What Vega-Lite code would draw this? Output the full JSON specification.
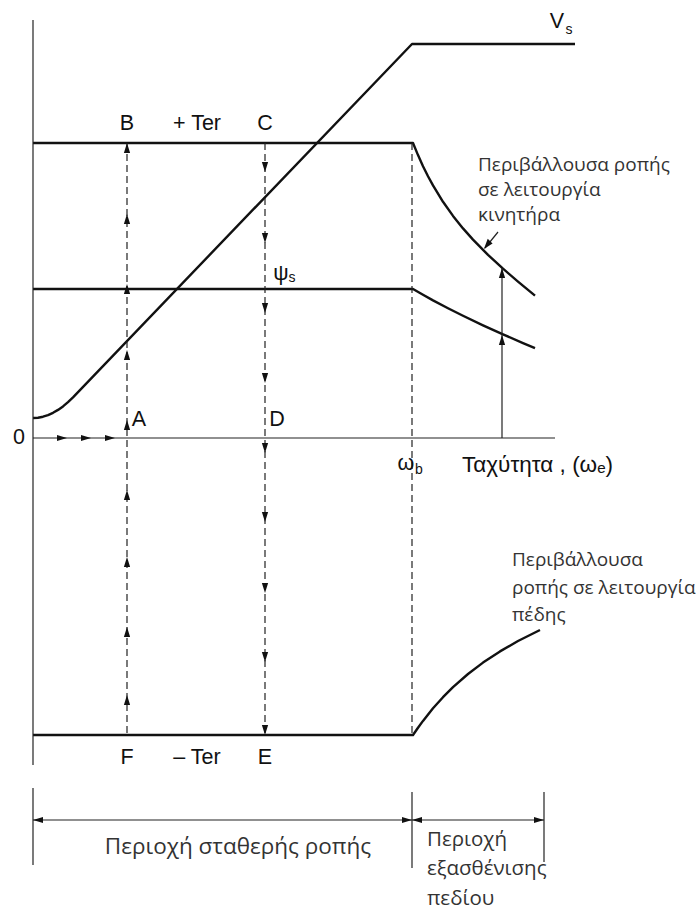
{
  "$schema": "https://vega.github.io/schema/vega-lite/v6.json",
  "width": 699,
  "height": 918,
  "padding": 0,
  "autosize": {"type": "fit", "contains": "padding"},
  "background": "white",
  "config": {"view": {"stroke": null}},
  "datasets": {
    "thick": [
      {"s": "Vs", "o": 0, "x": 0, "y": 20}, {"s": "Vs", "o": 1, "x": 5, "y": 20.3}, {"s": "Vs", "o": 2, "x": 10, "y": 21.3}, {"s": "Vs", "o": 3, "x": 15, "y": 22.9}, {"s": "Vs", "o": 4, "x": 20, "y": 25.2}, {"s": "Vs", "o": 5, "x": 25, "y": 28.1}, {"s": "Vs", "o": 6, "x": 30, "y": 31.6}, {"s": "Vs", "o": 7, "x": 35, "y": 35.9}, {"s": "Vs", "o": 8, "x": 40, "y": 40.7}, {"s": "Vs", "o": 9, "x": 379, "y": 394}, {"s": "Vs", "o": 10, "x": 542, "y": 394},
      {"s": "Mot", "o": 0, "x": 0, "y": 295}, {"s": "Mot", "o": 1, "x": 380, "y": 295}, {"s": "Mot", "o": 2, "x": 385, "y": 282.9}, {"s": "Mot", "o": 3, "x": 390, "y": 271.8}, {"s": "Mot", "o": 4, "x": 395, "y": 261.8}, {"s": "Mot", "o": 5, "x": 400, "y": 252.6}, {"s": "Mot", "o": 6, "x": 410, "y": 236.2}, {"s": "Mot", "o": 7, "x": 420, "y": 222.1}, {"s": "Mot", "o": 8, "x": 430, "y": 209.6}, {"s": "Mot", "o": 9, "x": 440, "y": 198.4}, {"s": "Mot", "o": 10, "x": 455, "y": 183.1}, {"s": "Mot", "o": 11, "x": 470, "y": 169.3}, {"s": "Mot", "o": 12, "x": 485, "y": 156.4}, {"s": "Mot", "o": 13, "x": 502, "y": 142.4},
      {"s": "Psi", "o": 0, "x": 0, "y": 149}, {"s": "Psi", "o": 1, "x": 380, "y": 149}, {"s": "Psi", "o": 2, "x": 390, "y": 143.2}, {"s": "Psi", "o": 3, "x": 400, "y": 137.6}, {"s": "Psi", "o": 4, "x": 415, "y": 129.7}, {"s": "Psi", "o": 5, "x": 430, "y": 122.2}, {"s": "Psi", "o": 6, "x": 450, "y": 112.7}, {"s": "Psi", "o": 7, "x": 470, "y": 103.7}, {"s": "Psi", "o": 8, "x": 490, "y": 94.9}, {"s": "Psi", "o": 9, "x": 502, "y": 89.8},
      {"s": "Brk", "o": 0, "x": 0, "y": -297}, {"s": "Brk", "o": 1, "x": 380, "y": -297}, {"s": "Brk", "o": 2, "x": 385, "y": -289.7}, {"s": "Brk", "o": 3, "x": 390, "y": -282.9}, {"s": "Brk", "o": 4, "x": 400, "y": -270.3}, {"s": "Brk", "o": 5, "x": 410, "y": -259.2}, {"s": "Brk", "o": 6, "x": 420, "y": -249.2}, {"s": "Brk", "o": 7, "x": 435, "y": -236}, {"s": "Brk", "o": 8, "x": 450, "y": -224.6}, {"s": "Brk", "o": 9, "x": 467, "y": -213.4}, {"s": "Brk", "o": 10, "x": 485, "y": -203}, {"s": "Brk", "o": 11, "x": 507, "y": -192}
    ],
    "thin": [
      {"s": "axis", "o": 0, "x": 0, "y": 418}, {"s": "axis", "o": 1, "x": 0, "y": -327},
      {"s": "zero", "o": 0, "x": 0, "y": 0}, {"s": "zero", "o": 1, "x": 522, "y": 0},
      {"s": "varrow", "o": 0, "x": 469, "y": 0}, {"s": "varrow", "o": 1, "x": 469, "y": 170},
      {"s": "t1", "o": 0, "x": 0, "y": -350}, {"s": "t1", "o": 1, "x": 0, "y": -427},
      {"s": "t2", "o": 0, "x": 379, "y": -354}, {"s": "t2", "o": 1, "x": 379, "y": -430},
      {"s": "t3", "o": 0, "x": 511, "y": -354}, {"s": "t3", "o": 1, "x": 511, "y": -424},
      {"s": "a1", "o": 0, "x": 0, "y": -382}, {"s": "a1", "o": 1, "x": 379, "y": -382},
      {"s": "a2", "o": 0, "x": 379, "y": -382}, {"s": "a2", "o": 1, "x": 511, "y": -382},
      {"s": "ptr", "o": 0, "x": 465, "y": 206}, {"s": "ptr", "o": 1, "x": 452, "y": 190}
    ],
    "dashed": [
      {"s": "dA", "o": 0, "x": 94, "y": 295}, {"s": "dA", "o": 1, "x": 94, "y": -297},
      {"s": "dC", "o": 0, "x": 232, "y": 295}, {"s": "dC", "o": 1, "x": 232, "y": -297},
      {"s": "dB", "o": 0, "x": 379, "y": 295}, {"s": "dB", "o": 1, "x": 379, "y": -297}
    ],
    "heads": [
      {"d": "up", "x": 94, "y": 290}, {"d": "up", "x": 94, "y": 219}, {"d": "up", "x": 94, "y": 149}, {"d": "up", "x": 94, "y": 83}, {"d": "up", "x": 94, "y": 13}, {"d": "up", "x": 94, "y": -57}, {"d": "up", "x": 94, "y": -124}, {"d": "up", "x": 94, "y": -194}, {"d": "up", "x": 94, "y": -262},
      {"d": "down", "x": 232, "y": 271}, {"d": "down", "x": 232, "y": 200}, {"d": "down", "x": 232, "y": 130}, {"d": "down", "x": 232, "y": 60}, {"d": "down", "x": 232, "y": -10}, {"d": "down", "x": 232, "y": -79}, {"d": "down", "x": 232, "y": -150}, {"d": "down", "x": 232, "y": -219}, {"d": "down", "x": 232, "y": -292},
      {"d": "right", "x": 29, "y": 0}, {"d": "right", "x": 53, "y": 0}, {"d": "right", "x": 77, "y": 0},
      {"d": "up", "x": 469, "y": 165}, {"d": "up", "x": 469, "y": 98},
      {"d": "left", "x": 5, "y": -382}, {"d": "right", "x": 374, "y": -382}, {"d": "left", "x": 384, "y": -382}, {"d": "right", "x": 506, "y": -382},
      {"d": "dl", "x": 454, "y": 193}
    ],
    "labels": [
      {"t": "B", "x": 94, "y": 314}, {"t": "+ Ter", "x": 164, "y": 314}, {"t": "C", "x": 232, "y": 314},
      {"t": "A", "x": 106, "y": 18}, {"t": "D", "x": 244, "y": 18}, {"t": "0", "x": -14, "y": 0},
      {"t": "F", "x": 94, "y": -320}, {"t": "– Ter", "x": 164, "y": -320}, {"t": "E", "x": 232, "y": -320},
      {"t": "V", "x": 524, "y": 416}, {"t": "ψ", "x": 248, "y": 164}, {"t": "ω", "x": 373, "y": -26}
    ],
    "subs": [
      {"t": "s", "x": 536, "y": 408}, {"t": "s", "x": 259, "y": 160}, {"t": "b", "x": 386, "y": -32}
    ],
    "axislabel": [
      {"t": "Ταχύτητα , (ωₑ)", "x": 429, "y": -27}
    ],
    "notes": [
      {"t": "Περιβάλλουσα ροπής", "x": 445, "y": 273}, {"t": "σε λειτουργία", "x": 445, "y": 248}, {"t": "κινητήρα", "x": 445, "y": 223},
      {"t": "Περιβάλλουσα", "x": 479, "y": -122}, {"t": "ροπής σε λειτουργία", "x": 479, "y": -150}, {"t": "πέδης", "x": 479, "y": -177}
    ],
    "regionLeft": [
      {"t": "Περιοχή σταθερής ροπής", "x": 205, "y": -409}
    ],
    "regionRight": [
      {"t": "Περιοχή", "x": 394, "y": -402}, {"t": "εξασθένισης", "x": 394, "y": -431}, {"t": "πεδίου", "x": 394, "y": -461}
    ]
  },
  "encoding": {
    "x": {"field": "x", "type": "quantitative", "scale": {"domain": [-33, 666], "nice": false, "zero": false}, "axis": null},
    "y": {"field": "y", "type": "quantitative", "scale": {"domain": [-480, 438], "nice": false, "zero": false}, "axis": null}
  },
  "layer": [
    {
      "data": {"name": "thick"},
      "mark": {"type": "line", "color": "#111111", "strokeWidth": 2.4, "strokeJoin": "round"},
      "encoding": {"detail": {"field": "s"}, "order": {"field": "o", "type": "quantitative"}}
    },
    {
      "data": {"name": "thin"},
      "mark": {"type": "line", "color": "#222222", "strokeWidth": 1.2},
      "encoding": {"detail": {"field": "s"}, "order": {"field": "o", "type": "quantitative"}}
    },
    {
      "data": {"name": "dashed"},
      "mark": {"type": "line", "color": "#222222", "strokeWidth": 1.2, "strokeDash": [7, 4]},
      "encoding": {"detail": {"field": "s"}, "order": {"field": "o", "type": "quantitative"}}
    },
    {
      "data": {"name": "heads"},
      "mark": {"type": "point", "filled": true, "color": "#111111", "opacity": 1, "size": 100, "strokeWidth": 0},
      "encoding": {
        "shape": {"field": "d", "type": "nominal", "legend": null,
          "scale": {"domain": ["up", "down", "left", "right", "dl"],
            "range": ["M0,-1L0.62,1L-0.62,1Z", "M0,1L0.62,-1L-0.62,-1Z", "M-1,0L1,0.62L1,-0.62Z", "M1,0L-1,0.62L-1,-0.62Z", "M-0.625,0.78L1.11,-0.3L0.14,-1.26Z"]}}
      }
    },
    {
      "data": {"name": "labels"},
      "mark": {"type": "text", "font": "Liberation Sans", "fontSize": 21.5, "color": "#111111", "align": "center", "baseline": "middle"},
      "encoding": {"text": {"field": "t"}}
    },
    {
      "data": {"name": "subs"},
      "mark": {"type": "text", "font": "Liberation Sans", "fontSize": 14, "color": "#111111", "align": "center", "baseline": "middle"},
      "encoding": {"text": {"field": "t"}}
    },
    {
      "data": {"name": "axislabel"},
      "mark": {"type": "text", "font": "Liberation Sans", "fontSize": 22.5, "color": "#111111", "align": "left", "baseline": "middle"},
      "encoding": {"text": {"field": "t"}}
    },
    {
      "data": {"name": "notes"},
      "mark": {"type": "text", "font": "Open Sans", "fontSize": 19, "color": "#333333", "align": "left", "baseline": "middle"},
      "encoding": {"text": {"field": "t"}}
    },
    {
      "data": {"name": "regionLeft"},
      "mark": {"type": "text", "font": "Open Sans", "fontSize": 22.5, "color": "#333333", "align": "center", "baseline": "middle"},
      "encoding": {"text": {"field": "t"}}
    },
    {
      "data": {"name": "regionRight"},
      "mark": {"type": "text", "font": "Open Sans", "fontSize": 20.5, "color": "#333333", "align": "left", "baseline": "middle"},
      "encoding": {"text": {"field": "t"}}
    }
  ]
}
